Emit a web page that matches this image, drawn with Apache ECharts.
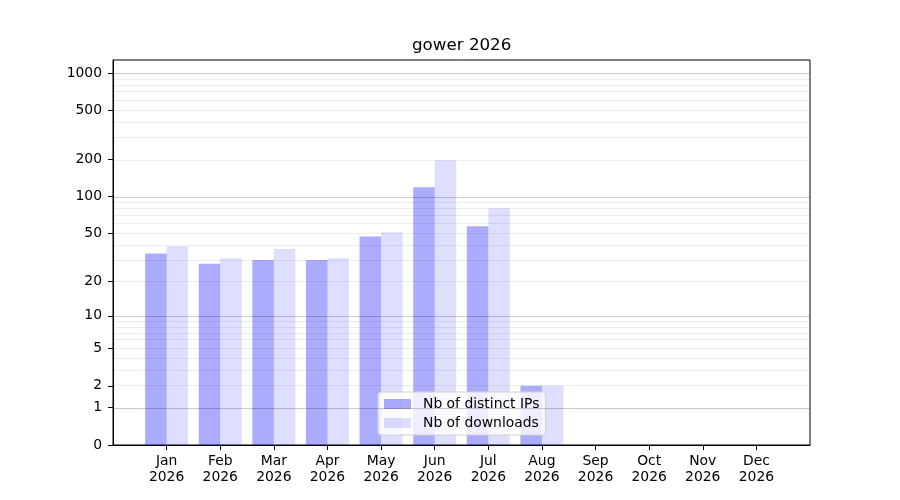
<!DOCTYPE html>
<html>
<head>
    <meta charset="utf-8">
    <script src="https://cdn.jsdelivr.net/npm/echarts@6.0.0/dist/echarts.min.js"></script>
    <style>
        html, body { margin: 0; padding: 0; background: #fff; }
        #main { width: 900px; height: 500px; }
    </style>
</head>
<body>
    <div id="main"></div>
<script type="text/javascript">
    // data
    var months = ['Jan', 'Feb', 'Mar', 'Apr', 'May', 'Jun', 'Jul', 'Aug', 'Sep', 'Oct', 'Nov', 'Dec'];
    var year = '2026';
    var distinctIps = [34, 28, 30, 30, 47, 119, 57, 2, 0, 0, 0, 0];
    var downloads = [39, 31, 37, 31, 51, 197, 80, 2, 0, 0, 0, 0];
    var yTicks = [0, 1, 2, 5, 10, 20, 50, 100, 200, 500, 1000];
    var majorGrid = [1, 10, 100, 1000];
    var minorGrid = [2, 3, 4, 5, 6, 7, 8, 9, 20, 30, 40, 50, 60, 70, 80, 90, 200, 300, 400, 500, 600, 700, 800, 900];

    // the y scale is log10(v + 1)
    function tf(v) { return Math.log10(v + 1); }
    function inv(t) { return Math.round(Math.pow(10, t) - 1); }

    // one empty slot on each side gives the matplotlib margin
    var cats = [''].concat(months).concat(['']);
    function pad(arr) { return [null].concat(arr.map(tf)).concat([null]); }

    var font = 'DejaVu Sans';
    var chart = echarts.init(document.getElementById('main'));

    var gridLines = majorGrid.map(function (g) {
        return { yAxis: tf(g), lineStyle: { color: 'rgba(0,0,0,0.2)', width: 1, type: 'solid' } };
    }).concat(minorGrid.map(function (g) {
        return { yAxis: tf(g), lineStyle: { color: 'rgba(0,0,0,0.07)', width: 1, type: 'solid' } };
    }));

    var option = {
        backgroundColor: '#fff',
        animation: false,
        title: {
            text: 'gower ' + year,
            left: 412,
            top: 37,
            padding: 0,
            textStyle: { fontFamily: font, fontSize: 16.7, fontWeight: 'normal', color: '#000' }
        },
        grid: {
            left: 113, right: 90, top: 60, bottom: 55,
            show: true, borderColor: '#000', borderWidth: 1, backgroundColor: 'transparent'
        },
        legend: {
            orient: 'vertical',
            left: 378,
            top: 392,
            padding: [5, 6, 5, 6],
            itemGap: 5,
            itemWidth: 27,
            itemHeight: 10,
            icon: 'rect',
            backgroundColor: 'rgba(255,255,255,0.8)',
            borderColor: '#d0d0d0',
            borderWidth: 1,
            borderRadius: 3,
            textStyle: { fontFamily: font, fontSize: 13.9, color: '#000', padding: [0, 0, 0, 7] },
            data: ['Nb of distinct IPs', 'Nb of downloads']
        },
        xAxis: {
            type: 'category',
            data: cats,
            boundaryGap: false,
            axisLine: { lineStyle: { color: '#000', width: 1 } },
            axisTick: {
                length: 5,
                lineStyle: { color: '#000' },
                interval: function (i, v) { return v !== ''; }
            },
            axisLabel: {
                interval: function (i, v) { return v !== ''; },
                formatter: function (v) { return v === '' ? '' : v + '\n' + year; },
                fontFamily: font, fontSize: 13.9, color: '#000', lineHeight: 16, margin: 8
            },
            splitLine: { show: false }
        },
        yAxis: {
            type: 'value',
            min: 0,
            max: 3.105,
            axisLine: { show: true, lineStyle: { color: '#000', width: 1 } },
            axisTick: {
                show: true, length: 5,
                lineStyle: { color: '#000' },
                customValues: yTicks.map(tf)
            },
            axisLabel: {
                customValues: yTicks.map(tf),
                formatter: function (v) { return String(inv(v)); },
                fontFamily: font, fontSize: 13.9, color: '#000', margin: 11
            },
            splitLine: { show: false }
        },
        series: [
            {
                name: 'Nb of distinct IPs',
                type: 'bar',
                barWidth: 21.5,
                barGap: '0%',
                itemStyle: { color: 'rgba(0,0,255,0.33)' },
                data: pad(distinctIps),
                markLine: {
                    silent: true,
                    symbol: ['none', 'none'],
                    label: { show: false },
                    animation: false,
                    data: gridLines
                }
            },
            {
                name: 'Nb of downloads',
                type: 'bar',
                barWidth: 21.5,
                barGap: '0%',
                itemStyle: { color: 'rgba(0,0,255,0.13)' },
                data: pad(downloads)
            }
        ]
    };

    chart.setOption(option);
</script>
</body>
</html>
